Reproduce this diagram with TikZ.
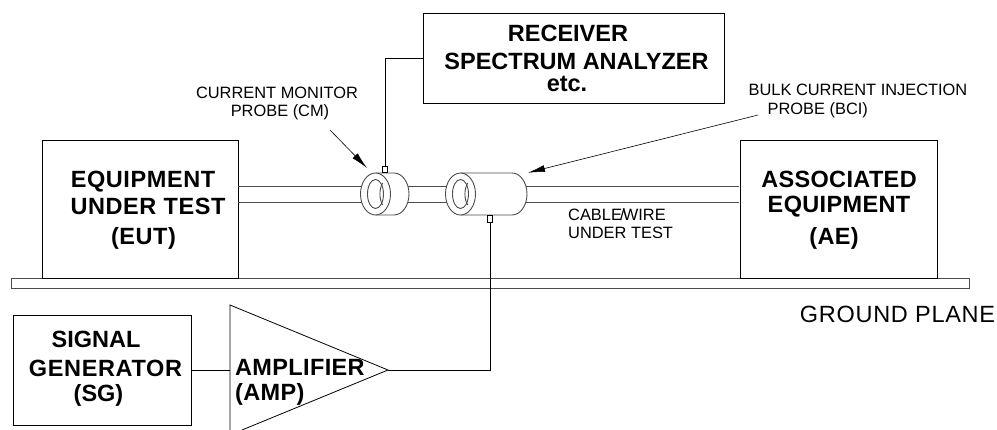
\documentclass[tikz,border=0pt]{standalone}
\usepackage{fontspec}
\setmainfont{Liberation Sans}
\usetikzlibrary{arrows.meta}
\newcommand{\lsp}[2]{{\addfontfeature{LetterSpace=#1}#2}}
\tikzset{
  x=1pt,y=-1pt,
  box/.style={draw,line width=0.9pt,anchor=north west,inner sep=0pt,align=center},
  big/.style={font=\fontsize{23.5}{25}\selectfont\bfseries,align=center,inner sep=0pt},
  small/.style={font=\fontsize{16.4}{18.5}\selectfont,align=center,inner sep=0pt},
  wire/.style={line width=0.8pt},
  tube/.style={draw=black!70,line width=0.9pt},
  ptr/.style={line width=0.6pt,-{Latex[length=17pt,width=7pt]}},
}
\begin{document}
\begin{tikzpicture}
\useasboundingbox (0,0) rectangle (997,430);
% ground plane
\draw[tube,fill=white] (969,278) -- (11,278) -- (11,288) -- (969,288) -- cycle;
% boxes
\node[box,minimum width=196pt,minimum height=138pt] (eut) at (42.3,140) {};
\node[big] at (148,210) {\lsp{2.5}{EQUIPMENT}\hspace*{10pt}\\[2pt]\lsp{2.5}{UNDER TEST}\\[5pt]\lsp{2.5}{(EUT)}\hspace*{9pt}};
\node[box,minimum width=197pt,minimum height=138pt] (ae) at (739.5,140) {};
\node[big] at (839,210) {\lsp{1.5}{ASSOCIATED}\\\lsp{1.5}{EQUIPMENT}\\[7pt]\lsp{1.5}{(AE)}\hspace*{10pt}};
\node[box,minimum width=301pt,minimum height=90pt] (rx) at (423,13) {};
\node[big] at (576.5,58.5) {RECEIVER\hspace*{17pt}\\[3pt]SPECTRUM ANALYZER\\[-3pt]etc.\hspace*{19pt}};
\node[box,minimum width=178pt,minimum height=110pt] (sg) at (13,315) {};
\node[big] at (105.5,369) {SIGNAL\hspace*{19pt}\\[4pt]\lsp{2.8}{GENERATOR}\\(SG)\hspace*{14pt}};
% cable
\draw[tube] (238,186) -- (739,186);
\draw[tube] (238,202.5) -- (739,202.5);
% CM probe
\coordinate (cmc) at (375.5,194);
\filldraw[tube,fill=white] (376,173) -- (394,173) arc[start angle=90,end angle=-90,x radius=15pt,y radius=21pt] -- (376,215) -- cycle;
\filldraw[tube,fill=white] (cmc) ellipse[x radius=15pt,y radius=21pt];
\draw[tube] (cmc) ellipse[x radius=8pt,y radius=14.5pt];
\draw[tube] (382.7,183) .. controls (379,189) and (379,199) .. (382.7,205);
\node[draw,line width=0.7pt,minimum width=5pt,minimum height=6pt,inner sep=0pt,anchor=south] (cmtab) at (385,173) {};
% BCI probe
\coordinate (bcic) at (460.5,194);
\filldraw[tube,fill=white] (461,173) -- (512,173) arc[start angle=90,end angle=-90,x radius=15pt,y radius=21pt] -- (461,215) -- cycle;
\filldraw[tube,fill=white] (bcic) ellipse[x radius=15pt,y radius=21pt];
\draw[tube] (bcic) ellipse[x radius=8pt,y radius=14.5pt];
\draw[tube] (467.7,183) .. controls (464,189) and (464,199) .. (467.7,205);
\node[draw,line width=0.7pt,minimum width=5pt,minimum height=7pt,inner sep=0pt,anchor=north] (bcitab) at (490,215) {};
% amplifier
\coordinate (a1) at (230,305);
\coordinate (a2) at (230,430);
\coordinate (atip) at (388,370);
\coordinate (a3) at (242,430);
\draw[wire] (a3) -- (atip) -- (a1) -- (a2);
\node[big,align=left,anchor=west] at (235,382.5) {\lsp{1.5}{AMPLIFIER}\\\lsp{1.5}{(AMP)}};
% connectors
\draw[wire] (sg.east |- atip) -- (a1 |- atip);
\draw[wire] (atip) -- (bcitab.south |- atip) -- (bcitab.south);
\draw[wire] (cmtab.north) |- (rx.west |- 0,58);
% labels
\node[small] at (277,103.5) {CURRENT MONITOR\\\hspace*{6pt}PROBE (CM)};
\node[small,align=left] at (858,101) {BULK CURRENT INJECTION\\\hspace*{19pt}PROBE (BCI)};
\node[small,anchor=north west,align=left] at (568,208) {CABLE\kern-1.8pt/\kern-1.8pt WIRE\\UNDER TEST};
\node[font=\fontsize{23.5}{25}\selectfont,inner sep=0pt] at (897.5,314) {\lsp{3}{GROUND PLANE}};
% pointers
\coordinate (c1) at (330,130);
\coordinate (c2) at (367,168);
\coordinate (b1) at (758,115);
\coordinate (b2) at (528,172.7);
\draw[ptr] (c1) -- (c2);
\draw[ptr] (b1) -- (b2);
\end{tikzpicture}
\end{document}
